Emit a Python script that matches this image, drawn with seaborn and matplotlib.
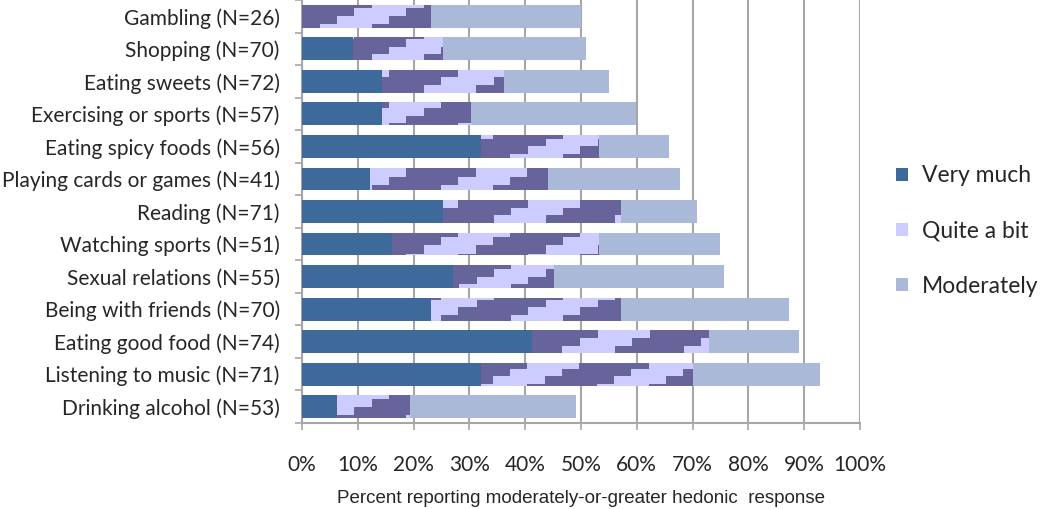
import numpy as np
import pandas as pd
import matplotlib
matplotlib.use("Agg")
import matplotlib.pyplot as plt
import seaborn as sns
from matplotlib.colors import ListedColormap
from matplotlib.patches import Patch

# values, percent of respondents
activities = ['Gambling (N=26)', 'Shopping (N=70)', 'Eating sweets (N=72)',
              'Exercising or sports (N=57)', 'Eating spicy foods (N=56)',
              'Playing cards or games (N=41)', 'Reading (N=71)',
              'Watching sports (N=51)', 'Sexual relations (N=55)',
              'Being with friends (N=70)', 'Eating good food (N=74)',
              'Listening to music (N=71)', 'Drinking alcohol (N=53)']
very_much = [0.0, 9.1, 14.3, 14.3, 32.1, 12.2, 25.3, 16.1, 27.1, 23.1, 41.2, 32.1, 6.3]
quite_a_bit = [23.1, 16.1, 21.8, 15.9, 21.0, 31.8, 31.7, 37.0, 17.9, 33.9, 31.6, 37.9, 13.0]
moderately = [26.9, 25.7, 18.9, 29.7, 12.7, 23.7, 13.7, 21.8, 30.7, 30.2, 16.2, 22.9, 29.8]

vm_col = '#3E6A9B'
qb_light = '#CCCCFF'
qb_dark = '#66649B'
mod_col = '#A9B9D7'
grid_col = '#A6A6A6'

sns.set_theme(style="white")
plt.rcParams['font.family'] = ['Lato', 'DejaVu Sans']

df = pd.DataFrame({'activity': activities, 'vm': very_much,
                   'qb': quite_a_bit, 'mod': moderately})
df['vm_qb'] = df['vm'] + df['qb']
df['total'] = df['vm_qb'] + df['mod']

fig = plt.figure(figsize=(10.5, 5.09), dpi=100)
ax = fig.add_axes([302 / 1050, 86 / 509, 558 / 1050, 423 / 509])

sns.barplot(data=df, y='activity', x='total', color=mod_col, saturation=1,
            width=0.7, orient='h', ax=ax)
sns.barplot(data=df, y='activity', x='vm_qb', color=qb_light, saturation=1,
            width=0.7, orient='h', ax=ax)
sns.barplot(data=df, y='activity', x='vm', color=vm_col, saturation=1,
            width=0.7, orient='h', ax=ax)

for z, cont in zip([2, 3, 5], ax.containers):
    for p in cont:
        p.set_zorder(z)
        p.set_edgecolor('none')

nrow = len(activities)

# stair-step diagonal fill of the "Quite a bit" segments
W, H = 558, 423
px = np.arange(W)
py = np.arange(H)
n = (px[None, :] // 17.3) + (py[:, None] // 7.67)
pattern = ((n % 7) < 4).astype(float)
cmap = ListedColormap([qb_light, qb_dark])
for p in ax.containers[1]:
    im = ax.imshow(pattern, cmap=cmap, vmin=0, vmax=1, origin='upper',
                   extent=(0, 100, nrow - 0.5, -0.5),
                   aspect='auto', interpolation='nearest', zorder=4)
    im.set_clip_path(p)
ax.set_xlim(0, 100)
ax.set_ylim(nrow - 0.5, -0.5)

ax.set_axisbelow(True)
ax.grid(axis='x', color=grid_col, linewidth=1.5)
ax.grid(axis='y', visible=False)
ax.set_xticks(np.arange(0, 101, 10))
ax.set_xticklabels([f'{v}%' for v in range(0, 101, 10)])
ax.set_yticks(np.arange(-0.5, nrow, 1), minor=True)
ax.tick_params(axis='y', which='major', length=0, pad=16, labelsize=15)
ax.tick_params(axis='y', which='minor', left=True, length=5, color=grid_col, width=1.2)
ax.tick_params(axis='x', which='major', bottom=True, length=5, color=grid_col,
               width=1.2, pad=18, labelsize=15)
for s in ['top', 'right']:
    ax.spines[s].set_visible(False)
for s in ['left', 'bottom']:
    ax.spines[s].set_color(grid_col)
    ax.spines[s].set_linewidth(1.5)

ax.set_ylabel('')
ax.set_xlabel('Percent reporting moderately-or-greater hedonic  response',
              fontsize=13.5, family=['Liberation Sans', 'DejaVu Sans'], labelpad=11)

handles = [Patch(facecolor=vm_col, edgecolor='none'),
           Patch(facecolor=qb_light, edgecolor='none'),
           Patch(facecolor=mod_col, edgecolor='none')]
fig.legend(handles, ['Very much', 'Quite a bit', 'Moderately'],
           loc='center left', bbox_to_anchor=(0.834, 0.546), frameon=False,
           fontsize=16.5, handlelength=0.5, handleheight=0.5, handletextpad=0.6,
           labelspacing=1.5)

fig.savefig('out.png', dpi=100)
